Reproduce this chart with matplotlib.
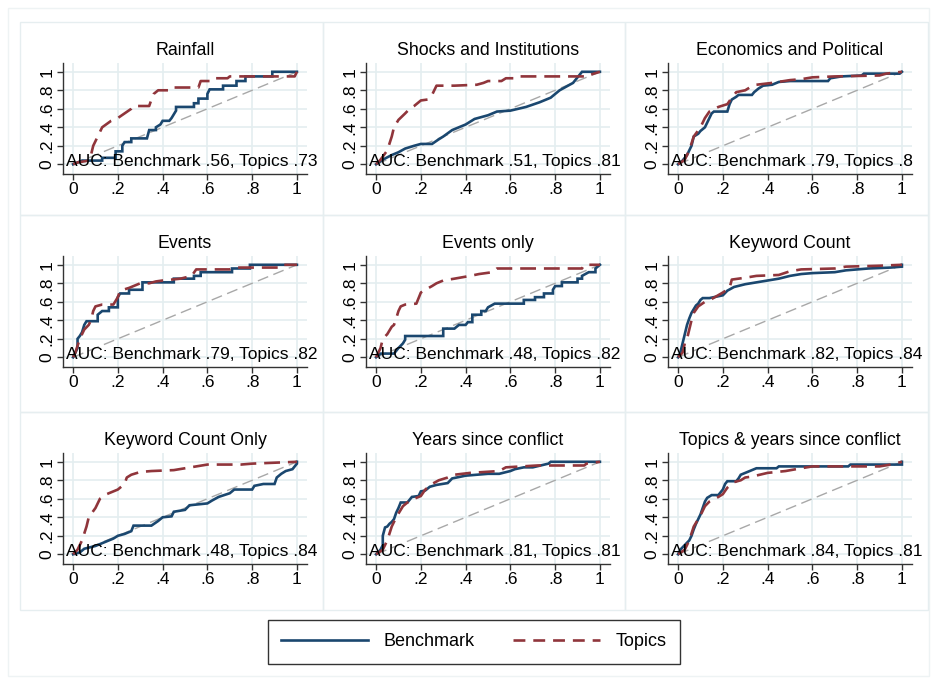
import matplotlib.pyplot as plt
from matplotlib.patches import Rectangle
from matplotlib.lines import Line2D

plt.rcParams['font.family'] = ['Liberation Sans', 'DejaVu Sans']

titles = ["Rainfall", "Shocks and Institutions", "Economics and Political",
          "Events", "Events only", "Keyword Count",
          "Keyword Count Only", "Years since conflict", "Topics & years since conflict"]
auc_bench = [".56", ".51", ".79", ".79", ".48", ".82", ".48", ".81", ".84"]
auc_topics = [".73", ".81", ".8", ".82", ".82", ".84", ".84", ".81", ".81"]
ticks = [0, 0.2, 0.4, 0.6, 0.8, 1]
tick_labels = ["0", ".2", ".4", ".6", ".8", "1"]

# ROC curves: (false positive rate, true positive rate)
rainfall_bench = [(0, 0), (0.02, 0.02), (0.04, 0.04), (0.13, 0.04), (0.13, 0.07), (0.19, 0.07), (0.19, 0.14),
                  (0.22, 0.14), (0.22, 0.2), (0.23, 0.24), (0.26, 0.24), (0.26, 0.28), (0.33, 0.28), (0.34, 0.37),
                  (0.37, 0.37), (0.37, 0.4), (0.39, 0.43), (0.4, 0.47), (0.43, 0.47), (0.44, 0.5), (0.45, 0.54),
                  (0.46, 0.58), (0.46, 0.62), (0.54, 0.62), (0.54, 0.66), (0.56, 0.66), (0.56, 0.71), (0.6, 0.71),
                  (0.6, 0.76), (0.61, 0.81), (0.67, 0.81), (0.67, 0.85), (0.73, 0.85), (0.73, 0.9), (0.77, 0.9),
                  (0.77, 0.95), (0.89, 0.95), (0.89, 1.0), (1, 1)]
rainfall_topics = [(0, 0), (0.02, 0.02), (0.07, 0.04), (0.08, 0.1), (0.09, 0.2), (0.11, 0.3), (0.13, 0.4),
                   (0.17, 0.47), (0.2, 0.5), (0.23, 0.55), (0.26, 0.6), (0.27, 0.63), (0.34, 0.63), (0.35, 0.7),
                   (0.36, 0.76), (0.38, 0.8), (0.44, 0.8), (0.45, 0.83), (0.56, 0.83), (0.57, 0.9), (0.61, 0.9),
                   (0.62, 0.93), (0.69, 0.93), (0.7, 0.95), (0.99, 0.95), (1, 1)]

shocks_bench = [(0, 0), (0.03, 0.05), (0.07, 0.1), (0.1, 0.13), (0.13, 0.17), (0.17, 0.2), (0.2, 0.22),
                (0.25, 0.22), (0.28, 0.27), (0.3, 0.3), (0.34, 0.37), (0.4, 0.43), (0.44, 0.49), (0.5, 0.53),
                (0.54, 0.57), (0.6, 0.58), (0.67, 0.62), (0.73, 0.67), (0.78, 0.72), (0.82, 0.8), (0.88, 0.88),
                (0.92, 1.0), (1, 1)]
shocks_topics = [(0, 0), (0.02, 0.05), (0.05, 0.15), (0.07, 0.3), (0.08, 0.4), (0.1, 0.48), (0.13, 0.55),
                 (0.15, 0.6), (0.17, 0.63), (0.2, 0.69), (0.23, 0.7), (0.25, 0.75), (0.26, 0.8), (0.27, 0.85),
                 (0.35, 0.85), (0.45, 0.86), (0.48, 0.88), (0.5, 0.9), (0.56, 0.9), (0.58, 0.93), (0.63, 0.93),
                 (0.64, 0.95), (0.95, 0.95), (0.96, 0.97), (1, 1)]

econ_bench = [(0, 0), (0.02, 0.04), (0.04, 0.1), (0.05, 0.15), (0.06, 0.2), (0.07, 0.3), (0.09, 0.33),
              (0.1, 0.36), (0.12, 0.4), (0.13, 0.45), (0.14, 0.5), (0.15, 0.55), (0.16, 0.57), (0.22, 0.57),
              (0.23, 0.65), (0.24, 0.7), (0.26, 0.73), (0.27, 0.75), (0.33, 0.75), (0.34, 0.78), (0.36, 0.82),
              (0.38, 0.85), (0.42, 0.86), (0.45, 0.89), (0.5, 0.9), (0.67, 0.9), (0.68, 0.93), (0.73, 0.95),
              (0.82, 0.96), (0.83, 0.98), (0.99, 0.98), (1, 1)]
econ_topics = [(0, 0), (0.03, 0.05), (0.05, 0.15), (0.07, 0.3), (0.1, 0.4), (0.12, 0.5), (0.14, 0.57),
               (0.18, 0.62), (0.22, 0.65), (0.24, 0.72), (0.26, 0.78), (0.3, 0.8), (0.32, 0.83), (0.35, 0.86),
               (0.42, 0.88), (0.5, 0.91), (0.55, 0.92), (0.6, 0.94), (0.7, 0.95), (0.9, 0.96), (0.93, 0.98), (1, 1)]

events_bench = [(0, 0), (0.01, 0.05), (0.02, 0.1), (0.02, 0.2), (0.03, 0.23), (0.04, 0.27), (0.05, 0.35),
                (0.06, 0.39), (0.11, 0.39), (0.11, 0.46), (0.13, 0.5), (0.16, 0.5), (0.16, 0.54), (0.2, 0.54),
                (0.2, 0.65), (0.21, 0.69), (0.25, 0.69), (0.25, 0.73), (0.31, 0.73), (0.31, 0.81), (0.45, 0.81),
                (0.45, 0.85), (0.54, 0.85), (0.54, 0.88), (0.57, 0.88), (0.57, 0.92), (0.71, 0.92), (0.71, 0.96),
                (0.79, 0.96), (0.79, 1.0), (1, 1)]
events_topics = [(0, 0), (0.01, 0.05), (0.03, 0.2), (0.05, 0.3), (0.07, 0.35), (0.08, 0.4), (0.09, 0.5),
                 (0.1, 0.55), (0.13, 0.57), (0.18, 0.57), (0.2, 0.65), (0.21, 0.72), (0.25, 0.75), (0.28, 0.78),
                 (0.3, 0.8), (0.34, 0.8), (0.37, 0.82), (0.4, 0.83), (0.48, 0.85), (0.53, 0.88), (0.55, 0.95),
                 (0.7, 0.95), (0.72, 0.97), (0.92, 0.97), (0.93, 1.0), (1, 1)]

evonly_bench = [(0, 0), (0.02, 0.04), (0.08, 0.04), (0.1, 0.1), (0.12, 0.15), (0.13, 0.19), (0.13, 0.23),
                (0.3, 0.23), (0.3, 0.31), (0.35, 0.31), (0.37, 0.35), (0.4, 0.35), (0.41, 0.38), (0.43, 0.38),
                (0.43, 0.46), (0.47, 0.46), (0.47, 0.5), (0.49, 0.5), (0.5, 0.54), (0.53, 0.58), (0.66, 0.58),
                (0.66, 0.62), (0.71, 0.62), (0.71, 0.65), (0.75, 0.65), (0.75, 0.69), (0.79, 0.69), (0.79, 0.73),
                (0.8, 0.77), (0.83, 0.77), (0.83, 0.81), (0.9, 0.81), (0.9, 0.85), (0.92, 0.85), (0.92, 0.88),
                (0.95, 0.92), (0.98, 0.92), (0.98, 0.96), (1, 1)]
evonly_topics = [(0, 0), (0.02, 0.1), (0.03, 0.2), (0.05, 0.25), (0.07, 0.33), (0.08, 0.35), (0.09, 0.42),
                 (0.1, 0.5), (0.11, 0.55), (0.13, 0.57), (0.18, 0.58), (0.2, 0.7), (0.22, 0.73), (0.25, 0.77),
                 (0.27, 0.8), (0.3, 0.83), (0.35, 0.85), (0.42, 0.88), (0.46, 0.9), (0.52, 0.92), (0.54, 0.96),
                 (0.92, 0.96), (0.93, 1.0), (1, 1)]

kw_bench = [(0, 0), (0.01, 0.05), (0.02, 0.15), (0.03, 0.25), (0.04, 0.35), (0.05, 0.42), (0.06, 0.48),
            (0.07, 0.52), (0.08, 0.56), (0.09, 0.58), (0.1, 0.62), (0.11, 0.64), (0.14, 0.64), (0.16, 0.65),
            (0.2, 0.67), (0.22, 0.72), (0.25, 0.76), (0.3, 0.79), (0.35, 0.81), (0.4, 0.83), (0.45, 0.85),
            (0.5, 0.88), (0.55, 0.9), (0.6, 0.91), (0.7, 0.92), (0.75, 0.94), (0.85, 0.96), (0.95, 0.97),
            (1, 0.98), (1, 1)]
kw_topics = [(0, 0), (0.02, 0.05), (0.03, 0.15), (0.04, 0.2), (0.05, 0.3), (0.06, 0.4), (0.07, 0.48),
             (0.09, 0.55), (0.12, 0.6), (0.15, 0.63), (0.2, 0.7), (0.23, 0.75), (0.24, 0.84), (0.3, 0.86),
             (0.35, 0.88), (0.45, 0.89), (0.5, 0.93), (0.55, 0.95), (0.7, 0.96), (0.75, 0.98), (0.9, 0.99), (1, 1)]

kwonly_bench = [(0, 0), (0.03, 0.02), (0.05, 0.06), (0.1, 0.09), (0.14, 0.13), (0.18, 0.17), (0.2, 0.2),
                (0.23, 0.22), (0.26, 0.25), (0.27, 0.31), (0.35, 0.31), (0.38, 0.36), (0.4, 0.4), (0.44, 0.41),
                (0.45, 0.46), (0.5, 0.48), (0.52, 0.53), (0.6, 0.55), (0.62, 0.58), (0.65, 0.62), (0.7, 0.66),
                (0.72, 0.7), (0.8, 0.7), (0.81, 0.74), (0.85, 0.76), (0.9, 0.76), (0.91, 0.83), (0.93, 0.87),
                (0.95, 0.9), (0.98, 0.92), (1, 0.98), (1, 1)]
kwonly_topics = [(0, 0), (0.02, 0.05), (0.04, 0.15), (0.06, 0.3), (0.07, 0.4), (0.1, 0.5), (0.12, 0.6),
                 (0.15, 0.65), (0.18, 0.68), (0.2, 0.7), (0.23, 0.76), (0.24, 0.83), (0.26, 0.86), (0.3, 0.89),
                 (0.35, 0.9), (0.45, 0.91), (0.55, 0.95), (0.6, 0.97), (0.75, 0.97), (0.8, 0.98), (1, 1)]

years_bench = [(0, 0), (0.02, 0.05), (0.03, 0.1), (0.03, 0.2), (0.04, 0.29), (0.05, 0.3), (0.06, 0.33),
               (0.07, 0.35), (0.08, 0.38), (0.09, 0.45), (0.1, 0.5), (0.11, 0.56), (0.14, 0.56), (0.15, 0.59),
               (0.16, 0.62), (0.19, 0.63), (0.2, 0.68), (0.22, 0.69), (0.24, 0.73), (0.27, 0.75), (0.32, 0.77),
               (0.34, 0.82), (0.4, 0.85), (0.45, 0.86), (0.5, 0.87), (0.55, 0.87), (0.6, 0.9), (0.62, 0.92),
               (0.66, 0.94), (0.7, 0.94), (0.77, 0.98), (0.78, 1.0), (1, 1)]
years_topics = [(0, 0), (0.03, 0.05), (0.05, 0.15), (0.07, 0.3), (0.09, 0.4), (0.12, 0.52), (0.15, 0.58),
                (0.2, 0.63), (0.22, 0.7), (0.24, 0.74), (0.25, 0.76), (0.28, 0.8), (0.32, 0.83), (0.35, 0.86),
                (0.42, 0.88), (0.55, 0.9), (0.58, 0.94), (0.65, 0.95), (0.72, 0.96), (0.93, 0.96), (0.94, 0.98),
                (1, 1)]

topyears_bench = [(0, 0), (0.01, 0.05), (0.03, 0.1), (0.05, 0.15), (0.06, 0.2), (0.07, 0.27), (0.08, 0.33),
                  (0.09, 0.38), (0.1, 0.43), (0.11, 0.5), (0.12, 0.57), (0.13, 0.61), (0.15, 0.64), (0.18, 0.64),
                  (0.2, 0.7), (0.21, 0.76), (0.22, 0.79), (0.26, 0.79), (0.27, 0.82), (0.28, 0.86), (0.3, 0.88),
                  (0.32, 0.9), (0.35, 0.93), (0.44, 0.93), (0.45, 0.95), (0.76, 0.95), (0.77, 0.97), (1, 0.97),
                  (1, 1)]
topyears_topics = [(0, 0), (0.03, 0.05), (0.05, 0.15), (0.07, 0.3), (0.1, 0.42), (0.12, 0.52), (0.14, 0.57),
                   (0.18, 0.62), (0.2, 0.65), (0.22, 0.72), (0.25, 0.78), (0.28, 0.8), (0.3, 0.83), (0.33, 0.84),
                   (0.4, 0.88), (0.48, 0.9), (0.55, 0.93), (0.6, 0.95), (0.9, 0.95), (0.95, 0.97), (1, 1)]

bench_curves = [rainfall_bench, shocks_bench, econ_bench, events_bench, evonly_bench,
                kw_bench, kwonly_bench, years_bench, topyears_bench]
topics_curves = [rainfall_topics, shocks_topics, econ_topics, events_topics, evonly_topics,
                 kw_topics, kwonly_topics, years_topics, topyears_topics]

navy = '#1a476f'
maroon = '#90353b'
gridc = '#e4eef0'

W, H = 931, 679
fig = plt.figure(figsize=(W / 100, H / 100), dpi=100)

# outer frame and panel boxes (pixel layout)
fig.patches.append(Rectangle((8 / W, 1 - 676 / H), 921 / W, 668 / H, transform=fig.transFigure,
                             fill=False, edgecolor='#eef3f4', linewidth=1))
col_left = [20, 323, 625]
col_right = [323, 625, 928]
row_top = [22, 215, 412]
row_bot = [215, 412, 610]

for i in range(9):
    r, c = divmod(i, 3)
    x0, x1 = col_left[c], col_right[c]
    y0, y1 = row_top[r], row_bot[r]
    fig.patches.append(Rectangle((x0 / W, 1 - y1 / H), (x1 - x0) / W, (y1 - y0) / H,
                                 transform=fig.transFigure, fill=False, edgecolor='#e6eef0', linewidth=1))
    ax_l = x0 + 43
    ax_t = y0 + 41
    ax_w = 244
    ax_h = 111
    ax = fig.add_axes([ax_l / W, 1 - (ax_t + ax_h) / H, ax_w / W, ax_h / H])
    ax.set_xlim(-0.045, 1.045)
    ax.set_ylim(-0.105, 1.095)
    ax.set_xticks(ticks)
    ax.set_xticklabels(tick_labels, fontsize=12.5)
    ax.set_yticks(ticks)
    ax.set_yticklabels(tick_labels, fontsize=12.5, rotation=90, va='center')
    ax.grid(True, color=gridc, linewidth=1.2)
    ax.set_axisbelow(True)
    for s in ['top', 'right']:
        ax.spines[s].set_visible(False)
    for s in ['left', 'bottom']:
        ax.spines[s].set_color('#333333')
        ax.spines[s].set_linewidth(1.0)
    ax.tick_params(length=4, width=1, color='#333333', pad=2)

    ax.plot([0, 1], [0, 1], color='#a8a8a8', linewidth=1.0, dashes=(8, 4))
    bx = [p[0] for p in bench_curves[i]]
    by = [p[1] for p in bench_curves[i]]
    tx = [p[0] for p in topics_curves[i]]
    ty = [p[1] for p in topics_curves[i]]
    ax.plot(bx, by, color=navy, linewidth=1.9, solid_joinstyle='miter')
    ax.plot(tx, ty, color=maroon, linewidth=1.9, dashes=(6, 3))
    ax.set_title(titles[i], fontsize=12.8, pad=6)
    ax.text(-0.03, 0.035, "AUC: Benchmark " + auc_bench[i] + ", Topics " + auc_topics[i],
            fontsize=12.5, va='center', ha='left', clip_on=False)

handles = [Line2D([], [], color=navy, linewidth=1.9),
           Line2D([], [], color=maroon, linewidth=1.9, dashes=(4.5, 3))]
leg = fig.legend(handles, ["Benchmark", "Topics"], loc='center', bbox_to_anchor=(474 / W, 1 - 642 / H),
                 ncol=2, frameon=True, fancybox=False, edgecolor='black', fontsize=13,
                 handlelength=4.8, columnspacing=2.1, handletextpad=0.9, borderpad=0.75, borderaxespad=0)
leg.get_frame().set_linewidth(1.0)

fig.savefig("out.png", dpi=100, facecolor='white')
